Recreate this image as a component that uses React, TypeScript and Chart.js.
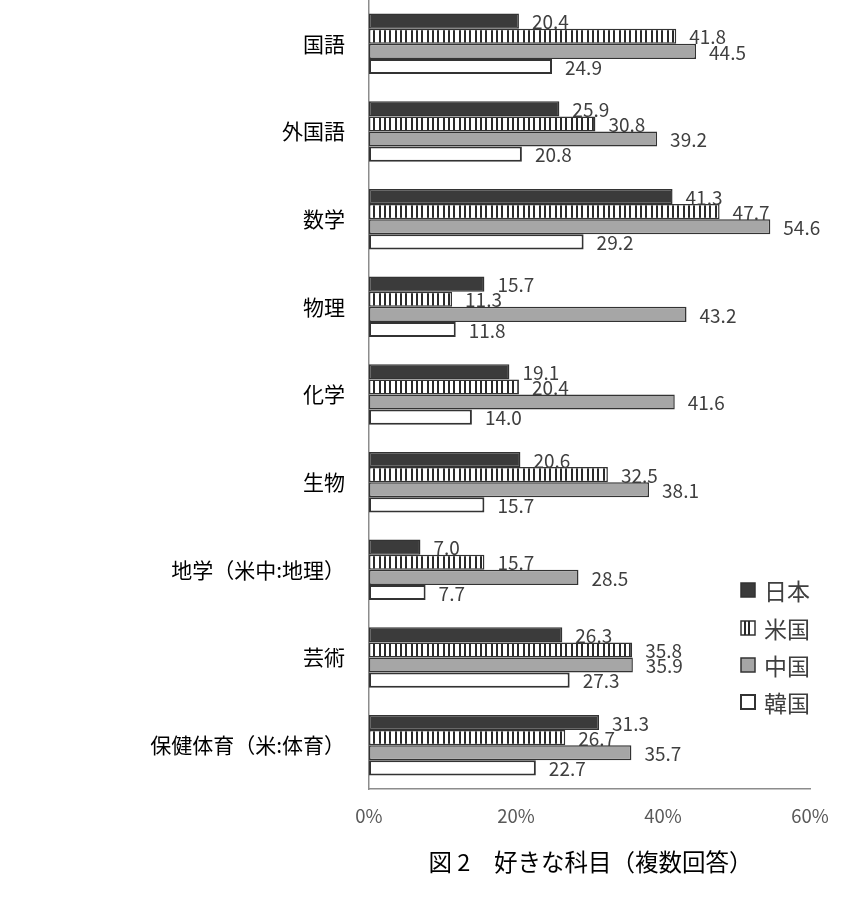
import React, { useEffect, useRef } from 'react';
import { Chart, registerables } from 'chart.js';

Chart.register(...registerables);

const categories = [
  '国語',
  '外国語',
  '数学',
  '物理',
  '化学',
  '生物',
  '地学（米中:地理）',
  '芸術',
  '保健体育（米:体育）',
];
const seriesNames = ['日本', '米国', '中国', '韓国'];
const japan = [20.4, 25.9, 41.3, 15.7, 19.1, 20.6, 7.0, 26.3, 31.3];
const usa = [41.8, 30.8, 47.7, 11.3, 20.4, 32.5, 15.7, 35.8, 26.7];
const china = [44.5, 39.2, 54.6, 43.2, 41.6, 38.1, 28.5, 35.9, 35.7];
const korea = [24.9, 20.8, 29.2, 11.8, 14.0, 15.7, 7.7, 27.3, 22.7];
const xMin = 0;
const xMax = 60;
const xStep = 20;
const titleText = '図 2　好きな科目（複数回答）';

const FONT = '"Noto Sans CJK JP", "Noto Sans", sans-serif';
const DARK = '#3b3b3b';
const GRAY = '#a6a6a6';
const BORDER = '#333333';
const TEXT = '#3f3f3f';

function makeStripePattern(ctx: CanvasRenderingContext2D): CanvasPattern | string {
  const c = document.createElement('canvas');
  c.width = 16;
  c.height = 8;
  const p = c.getContext('2d');
  if (!p) return '#ffffff';
  p.fillStyle = '#ffffff';
  p.fillRect(0, 0, 16, 8);
  p.fillStyle = '#2a2a2a';
  p.fillRect(0, 0, 2, 8);
  p.fillRect(5, 0, 2, 8);
  p.fillRect(11, 0, 2, 8);
  return ctx.createPattern(c, 'repeat') || '#ffffff';
}

const labelPlugin = {
  id: 'valueLabels',
  afterDatasetsDraw(chart: any) {
    const ctx = chart.ctx;
    ctx.save();
    ctx.font = `19px ${FONT}`;
    ctx.fillStyle = TEXT;
    ctx.textAlign = 'left';
    ctx.textBaseline = 'middle';
    chart.data.datasets.forEach((ds: any, di: number) => {
      const meta = chart.getDatasetMeta(di);
      meta.data.forEach((el: any, i: number) => {
        const v = ds.data[i] as number;
        ctx.fillText(v.toFixed(1), el.x + 13, el.y + 1);
      });
    });
    ctx.restore();
  },
};

const legendPlugin = {
  id: 'customLegend',
  afterDraw(chart: any) {
    const ctx = chart.ctx;
    ctx.save();
    const boxX = 741;
    const size = 14;
    const rows = [590, 628, 665, 702];
    ctx.font = `23px ${FONT}`;
    ctx.textAlign = 'left';
    ctx.textBaseline = 'middle';
    seriesNames.forEach((name, i) => {
      const cy = rows[i];
      const top = cy - size / 2;
      ctx.lineWidth = 1.5;
      ctx.strokeStyle = BORDER;
      if (i === 0) {
        ctx.fillStyle = DARK;
        ctx.fillRect(boxX, top, size, size);
        ctx.strokeRect(boxX, top, size, size);
      } else if (i === 1) {
        ctx.fillStyle = '#ffffff';
        ctx.fillRect(boxX, top, size, size);
        ctx.strokeRect(boxX, top, size, size);
        ctx.fillStyle = '#2a2a2a';
        ctx.fillRect(boxX + 3, top, 2, size);
        ctx.fillRect(boxX + size / 2, top, 2, size);
      } else if (i === 2) {
        ctx.fillStyle = GRAY;
        ctx.fillRect(boxX, top, size, size);
        ctx.strokeRect(boxX, top, size, size);
      } else {
        ctx.fillStyle = '#ffffff';
        ctx.fillRect(boxX, top, size, size);
        ctx.lineWidth = 2;
        ctx.strokeRect(boxX, top, size, size);
      }
      ctx.fillStyle = TEXT;
      ctx.fillText(name, boxX + 23, cy + 1);
    });
    ctx.restore();
  },
};

const titlePlugin = {
  id: 'bottomTitle',
  afterDraw(chart: any) {
    const ctx = chart.ctx;
    const area = chart.chartArea;
    ctx.save();
    ctx.font = `23.5px ${FONT}`;
    ctx.fillStyle = '#000000';
    ctx.textAlign = 'center';
    ctx.textBaseline = 'middle';
    ctx.fillText(titleText, (area.left + area.right) / 2 + 1, 862);
    ctx.restore();
  },
};

export default function App() {
  const ref = useRef<HTMLCanvasElement | null>(null);

  useEffect(() => {
    const canvas = ref.current;
    if (!canvas) return;
    const ctx = canvas.getContext('2d');
    if (!ctx) return;
    const stripe = makeStripePattern(ctx);

    const common = {
      borderColor: BORDER,
      borderWidth: 1.5,
      borderSkipped: false,
      categoryPercentage: 0.69,
      barPercentage: 1.0,
    };

    const chart = new Chart(canvas, {
      type: 'bar',
      data: {
        labels: categories,
        datasets: [
          { label: seriesNames[0], data: japan, backgroundColor: DARK, ...common },
          { label: seriesNames[1], data: usa, backgroundColor: stripe as any, ...common },
          { label: seriesNames[2], data: china, backgroundColor: GRAY, ...common },
          { label: seriesNames[3], data: korea, backgroundColor: '#ffffff', ...common, borderWidth: 2 },
        ],
      },
      options: {
        indexAxis: 'y',
        responsive: false,
        animation: false,
        layout: { padding: { top: 0, left: 0, right: 50, bottom: 0 } },
        plugins: {
          legend: { display: false },
          tooltip: { enabled: false },
          title: { display: false },
        },
        scales: {
          x: {
            min: xMin,
            max: xMax,
            grid: { display: false, drawTicks: false },
            border: { display: true, color: '#8c8c8c', width: 1.5 },
            ticks: {
              stepSize: xStep,
              padding: 16,
              color: '#595959',
              font: { family: FONT, size: 18.5 },
              callback: (v: any) => `${v}%`,
            },
            afterFit: (scale: any) => {
              scale.height = 109;
              scale.paddingLeft = 0;
              scale.paddingRight = 0;
              scale.paddingTop = 0;
              scale.paddingBottom = 0;
            },
          },
          y: {
            grid: { display: false, drawTicks: false },
            border: { display: true, color: '#8c8c8c', width: 1.5 },
            ticks: {
              padding: 24,
              color: '#000000',
              font: { family: FONT, size: 21 },
            },
            afterFit: (scale: any) => {
              scale.width = 369;
              scale.paddingLeft = 0;
              scale.paddingRight = 0;
              scale.paddingTop = 0;
              scale.paddingBottom = 0;
            },
          },
        },
      },
      plugins: [labelPlugin, legendPlugin, titlePlugin],
    });

    return () => {
      chart.destroy();
    };
  }, []);

  return (
    <div style={{ position: 'absolute', left: 0, top: 0, width: 860, height: 898, background: '#ffffff' }}>
      <canvas ref={ref} width={860} height={898} style={{ display: 'block' }} />
    </div>
  );
}
